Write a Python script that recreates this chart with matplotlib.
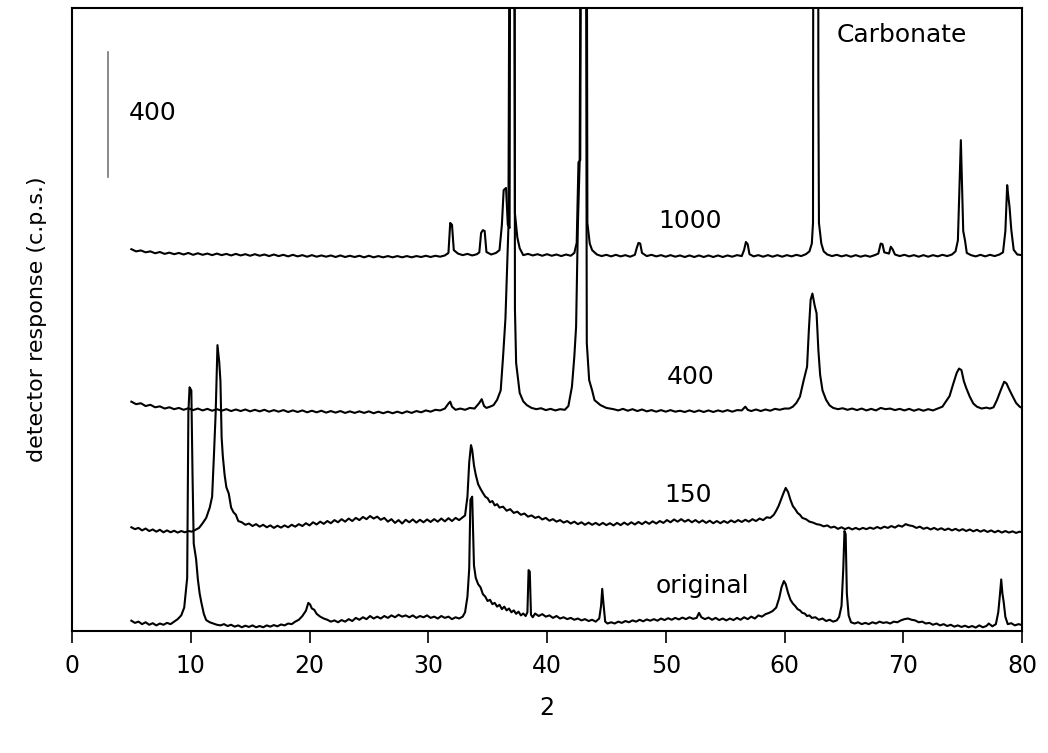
import numpy as np
import matplotlib
matplotlib.use("Agg")
import matplotlib.pyplot as plt

# XRD traces: (2theta, c.p.s. incl. vertical offset)
original = [
    (5.0, 33), (5.3, 26), (5.6, 30), (5.9, 22), (6.2, 28), (6.5, 20), (6.8, 25), (7.1, 18), (7.4, 24),
    (7.7, 20), (8.0, 26), (8.3, 22), (8.6, 30), (8.9, 38), (9.2, 50), (9.45, 75), (9.6, 130), (9.7, 170),
    (9.8, 700), (9.9, 780), (10.05, 770), (10.15, 500), (10.25, 280), (10.45, 230), (10.6, 165),
    (10.75, 120), (10.9, 90), (11.1, 55), (11.3, 35), (11.6, 28), (11.9, 24), (12.2, 20), (12.5, 18),
    (12.8, 22), (13.1, 16), (13.4, 20), (13.7, 14), (14.0, 18), (14.3, 12), (14.6, 17), (14.9, 13),
    (15.2, 18), (15.5, 12), (15.8, 16), (16.1, 12), (16.4, 18), (16.7, 14), (17.0, 19), (17.3, 15),
    (17.6, 21), (17.9, 18), (18.2, 24), (18.5, 22), (18.8, 30), (19.1, 36), (19.4, 48), (19.7, 65),
    (19.9, 90), (20.05, 85), (20.2, 72), (20.4, 68), (20.6, 55), (20.9, 46), (21.2, 40), (21.5, 36),
    (21.8, 30), (22.1, 34), (22.4, 28), (22.7, 35), (23.0, 30), (23.3, 38), (23.6, 32), (23.9, 42),
    (24.2, 36), (24.5, 44), (24.8, 38), (25.1, 48), (25.4, 40), (25.7, 46), (26.0, 40), (26.3, 48),
    (26.6, 42), (26.9, 50), (27.2, 44), (27.5, 52), (27.8, 46), (28.1, 50), (28.4, 44), (28.7, 50),
    (29.0, 42), (29.3, 48), (29.6, 44), (29.9, 50), (30.2, 42), (30.5, 46), (30.8, 40), (31.1, 48),
    (31.4, 42), (31.7, 46), (32.0, 38), (32.3, 44), (32.6, 40), (32.9, 46), (33.1, 60), (33.3, 110),
    (33.45, 200), (33.55, 420), (33.7, 430), (33.85, 210), (34.0, 170), (34.2, 150), (34.4, 140),
    (34.6, 118), (34.8, 110), (35.0, 96), (35.2, 100), (35.4, 86), (35.6, 90), (35.8, 78), (36.0, 84),
    (36.2, 70), (36.4, 78), (36.6, 66), (36.8, 72), (37.0, 60), (37.2, 66), (37.4, 55), (37.6, 62),
    (37.8, 50), (38.0, 56), (38.2, 48), (38.35, 60), (38.45, 195), (38.55, 190), (38.65, 52), (38.8, 44),
    (39.0, 56), (39.3, 48), (39.6, 54), (39.9, 46), (40.2, 50), (40.5, 42), (40.8, 48), (41.1, 40),
    (41.4, 44), (41.7, 38), (42.0, 42), (42.3, 36), (42.6, 40), (42.9, 34), (43.2, 38), (43.5, 32),
    (43.8, 36), (44.1, 30), (44.4, 40), (44.55, 80), (44.65, 135), (44.75, 90), (44.9, 30), (45.1, 24),
    (45.4, 28), (45.7, 24), (46.0, 30), (46.3, 26), (46.6, 32), (46.9, 28), (47.2, 34), (47.5, 30),
    (47.8, 36), (48.1, 31), (48.4, 37), (48.7, 33), (49.0, 38), (49.3, 33), (49.6, 40), (49.9, 35),
    (50.2, 41), (50.5, 36), (50.8, 42), (51.1, 37), (51.4, 43), (51.7, 38), (52.0, 44), (52.3, 39),
    (52.6, 42), (52.8, 58), (53.0, 44), (53.3, 38), (53.6, 43), (53.9, 36), (54.2, 42), (54.5, 35),
    (54.8, 40), (55.1, 34), (55.4, 40), (55.7, 35), (56.0, 42), (56.3, 36), (56.6, 44), (56.9, 38),
    (57.2, 46), (57.5, 40), (57.8, 50), (58.1, 46), (58.4, 54), (58.7, 58), (59.0, 64), (59.3, 75),
    (59.55, 105), (59.75, 140), (59.95, 160), (60.1, 150), (60.3, 122), (60.5, 100), (60.7, 88),
    (60.9, 80), (61.1, 70), (61.3, 66), (61.5, 58), (61.7, 56), (61.9, 48), (62.1, 50), (62.3, 42),
    (62.6, 44), (62.9, 36), (63.2, 40), (63.5, 32), (63.8, 36), (64.1, 30), (64.4, 34), (64.6, 45),
    (64.8, 80), (64.95, 200), (65.05, 320), (65.15, 310), (65.25, 120), (65.4, 50), (65.6, 28),
    (65.9, 24), (66.2, 28), (66.5, 22), (66.8, 26), (67.1, 22), (67.4, 28), (67.7, 24), (68.0, 30),
    (68.3, 26), (68.6, 28), (68.9, 24), (69.2, 30), (69.5, 28), (69.8, 34), (70.1, 38), (70.4, 40),
    (70.7, 36), (71.0, 34), (71.3, 28), (71.6, 30), (71.9, 24), (72.2, 26), (72.5, 20), (72.8, 24),
    (73.1, 18), (73.4, 22), (73.7, 16), (74.0, 20), (74.3, 14), (74.6, 18), (74.9, 13), (75.2, 17),
    (75.5, 12), (75.8, 16), (76.1, 11), (76.4, 18), (76.7, 12), (77.0, 16), (77.2, 24), (77.5, 15),
    (77.8, 22), (78.0, 60), (78.15, 120), (78.25, 165), (78.35, 120), (78.45, 95), (78.6, 45),
    (78.8, 22), (79.1, 25), (79.4, 18), (79.7, 22), (80.0, 19),
]

t150 = [
    (5.0, 332), (5.3, 326), (5.6, 330), (5.9, 322), (6.2, 328), (6.5, 320), (6.8, 325), (7.1, 318),
    (7.4, 324), (7.7, 316), (8.0, 322), (8.3, 316), (8.6, 321), (8.9, 315), (9.2, 320), (9.5, 316),
    (9.8, 320), (10.1, 318), (10.4, 324), (10.7, 330), (11.0, 345), (11.3, 362), (11.6, 395), (11.8, 430),
    (11.95, 560), (12.1, 700), (12.25, 915), (12.4, 860), (12.5, 800), (12.6, 620), (12.7, 560),
    (12.85, 500), (13.0, 460), (13.2, 440), (13.4, 395), (13.6, 380), (13.8, 372), (14.0, 352),
    (14.3, 348), (14.6, 340), (14.9, 344), (15.2, 336), (15.5, 342), (15.8, 334), (16.1, 340), (16.4, 332),
    (16.7, 338), (17.0, 330), (17.3, 337), (17.6, 331), (17.9, 338), (18.2, 332), (18.5, 340), (18.8, 334),
    (19.1, 342), (19.4, 336), (19.7, 345), (20.0, 338), (20.3, 348), (20.6, 341), (20.9, 350), (21.2, 343),
    (21.5, 352), (21.8, 345), (22.1, 355), (22.4, 348), (22.7, 358), (23.0, 350), (23.3, 360), (23.6, 352),
    (23.9, 362), (24.2, 355), (24.5, 365), (24.8, 358), (25.1, 368), (25.4, 360), (25.7, 366), (26.0, 356),
    (26.3, 362), (26.6, 350), (26.9, 358), (27.2, 346), (27.5, 355), (27.8, 344), (28.1, 356), (28.4, 348),
    (28.7, 357), (29.0, 347), (29.3, 356), (29.6, 348), (29.9, 357), (30.2, 349), (30.5, 358), (30.8, 350),
    (31.1, 360), (31.4, 351), (31.7, 361), (32.0, 352), (32.3, 362), (32.6, 355), (32.9, 364), (33.1, 370),
    (33.3, 430), (33.45, 540), (33.6, 595), (33.7, 580), (33.85, 530), (34.0, 500), (34.2, 470),
    (34.4, 455), (34.6, 442), (34.8, 430), (35.0, 425), (35.2, 412), (35.4, 416), (35.6, 402), (35.8, 406),
    (36.0, 395), (36.3, 398), (36.6, 385), (36.9, 390), (37.2, 378), (37.5, 382), (37.8, 372), (38.1, 376),
    (38.4, 366), (38.7, 370), (39.0, 362), (39.3, 366), (39.6, 357), (39.9, 362), (40.2, 353), (40.5, 358),
    (40.8, 350), (41.1, 355), (41.4, 347), (41.7, 352), (42.0, 344), (42.3, 350), (42.6, 342), (42.9, 348),
    (43.2, 340), (43.5, 347), (43.8, 340), (44.1, 346), (44.4, 339), (44.7, 346), (45.0, 339), (45.3, 345),
    (45.6, 338), (45.9, 346), (46.2, 339), (46.5, 347), (46.8, 340), (47.1, 348), (47.4, 341), (47.7, 349),
    (48.0, 342), (48.3, 350), (48.6, 343), (48.9, 351), (49.2, 344), (49.5, 352), (49.8, 346), (50.1, 355),
    (50.4, 348), (50.7, 357), (51.0, 350), (51.3, 358), (51.6, 350), (51.9, 356), (52.2, 348), (52.5, 355),
    (52.8, 347), (53.1, 354), (53.4, 346), (53.7, 353), (54.0, 345), (54.3, 352), (54.6, 345), (54.9, 352),
    (55.2, 346), (55.5, 354), (55.8, 348), (56.1, 355), (56.4, 349), (56.7, 356), (57.0, 350), (57.3, 358),
    (57.6, 352), (57.9, 360), (58.2, 355), (58.5, 364), (58.8, 362), (59.1, 372), (59.3, 385), (59.5, 400),
    (59.7, 420), (59.9, 440), (60.1, 458), (60.3, 445), (60.5, 420), (60.7, 400), (60.9, 390), (61.1, 378),
    (61.3, 372), (61.5, 362), (61.8, 358), (62.1, 350), (62.4, 347), (62.7, 342), (63.0, 340), (63.3, 335),
    (63.6, 338), (63.9, 331), (64.2, 334), (64.5, 327), (64.8, 332), (65.1, 326), (65.4, 331), (65.7, 325),
    (66.0, 330), (66.3, 325), (66.6, 330), (66.9, 326), (67.2, 331), (67.5, 327), (67.8, 333), (68.1, 328),
    (68.4, 334), (68.7, 330), (69.0, 336), (69.3, 331), (69.6, 338), (69.9, 334), (70.2, 342), (70.5, 338),
    (70.8, 336), (71.1, 330), (71.4, 334), (71.7, 327), (72.0, 331), (72.3, 325), (72.6, 330), (72.9, 324),
    (73.2, 329), (73.5, 323), (73.8, 328), (74.1, 322), (74.4, 327), (74.7, 321), (75.0, 326), (75.3, 320),
    (75.6, 325), (75.9, 319), (76.2, 324), (76.5, 318), (76.8, 323), (77.1, 317), (77.4, 322), (77.7, 316),
    (78.0, 321), (78.3, 315), (78.6, 320), (78.9, 315), (79.2, 319), (79.5, 314), (79.8, 318), (80.0, 316),
]

t400 = [
    (5.0, 734), (5.4, 726), (5.8, 729), (6.2, 720), (6.6, 724), (7.0, 716), (7.4, 719), (7.8, 712),
    (8.2, 716), (8.6, 710), (9.0, 714), (9.4, 708), (9.8, 713), (10.2, 707), (10.6, 712), (11.0, 706),
    (11.4, 711), (11.8, 705), (12.2, 710), (12.6, 705), (13.0, 710), (13.4, 704), (13.8, 709), (14.2, 704),
    (14.6, 709), (15.0, 703), (15.4, 708), (15.8, 703), (16.2, 708), (16.6, 702), (17.0, 707), (17.4, 702),
    (17.8, 707), (18.2, 701), (18.6, 706), (19.0, 701), (19.4, 706), (19.8, 700), (20.2, 705), (20.6, 700),
    (21.0, 705), (21.4, 699), (21.8, 704), (22.2, 699), (22.6, 704), (23.0, 698), (23.4, 703), (23.8, 698),
    (24.2, 703), (24.6, 698), (25.0, 703), (25.4, 697), (25.8, 702), (26.2, 697), (26.6, 702), (27.0, 697),
    (27.4, 702), (27.8, 697), (28.2, 703), (28.6, 698), (29.0, 704), (29.4, 700), (29.8, 706), (30.2, 702),
    (30.6, 708), (31.0, 706), (31.4, 712), (31.7, 728), (31.85, 734), (32.0, 718), (32.3, 708), (32.7, 712),
    (33.1, 708), (33.5, 714), (33.9, 712), (34.3, 730), (34.5, 742), (34.7, 720), (34.9, 714), (35.2, 718),
    (35.5, 723), (35.8, 740), (36.1, 770), (36.3, 878), (36.5, 1000), (36.65, 1180), (36.75, 1290),
    (36.9, 3000), (37.25, 3000), (37.3, 1030), (37.4, 858), (37.7, 762), (38.0, 735), (38.3, 723),
    (38.7, 714), (39.1, 710), (39.5, 713), (39.9, 707), (40.3, 711), (40.7, 706), (41.1, 710), (41.5, 708),
    (41.8, 720), (42.1, 782), (42.3, 878), (42.45, 974), (42.6, 1300), (42.75, 1500), (42.9, 3000),
    (43.25, 3000), (43.35, 922), (43.55, 803), (43.8, 770), (44.0, 739), (44.5, 723), (45.0, 714),
    (45.6, 710), (46.0, 706), (46.4, 711), (46.8, 705), (47.2, 710), (47.6, 704), (48.0, 709), (48.4, 703),
    (48.8, 707), (49.2, 702), (49.6, 707), (50.0, 702), (50.4, 707), (50.8, 702), (51.2, 705), (51.6, 701),
    (52.0, 706), (52.4, 701), (52.8, 706), (53.2, 701), (53.6, 706), (54.0, 701), (54.4, 706), (54.8, 702),
    (55.2, 707), (55.6, 702), (56.0, 707), (56.4, 706), (56.7, 718), (56.9, 708), (57.2, 704), (57.6, 709),
    (58.0, 704), (58.4, 709), (58.8, 705), (59.2, 711), (59.6, 708), (60.0, 712), (60.4, 712), (60.7, 718),
    (61.0, 730), (61.3, 750), (61.6, 800), (61.9, 846), (62.05, 963), (62.2, 1060), (62.35, 1080),
    (62.55, 1040), (62.7, 1017), (62.85, 900), (63.0, 820), (63.2, 770), (63.5, 740), (63.8, 722),
    (64.1, 714), (64.5, 710), (64.9, 713), (65.3, 708), (65.7, 712), (66.1, 707), (66.5, 712), (66.9, 706),
    (67.3, 711), (67.7, 706), (68.1, 714), (68.5, 710), (68.9, 712), (69.3, 707), (69.7, 711), (70.1, 706),
    (70.5, 711), (70.9, 705), (71.3, 710), (71.7, 705), (72.1, 710), (72.5, 706), (72.9, 712), (73.3, 718),
    (73.6, 735), (73.9, 752), (74.2, 790), (74.5, 826), (74.7, 840), (74.9, 835), (75.1, 800), (75.3, 778),
    (75.6, 750), (75.9, 728), (76.2, 718), (76.6, 712), (77.0, 715), (77.3, 712), (77.6, 716), (77.9, 740),
    (78.2, 770), (78.5, 798), (78.7, 792), (78.9, 775), (79.2, 752), (79.5, 730), (79.8, 718), (80.0, 714),
]

t1000 = [
    (5.0, 1222), (5.4, 1215), (5.8, 1218), (6.2, 1212), (6.6, 1215), (7.0, 1209), (7.4, 1213), (7.8, 1207),
    (8.2, 1211), (8.6, 1206), (9.0, 1210), (9.4, 1205), (9.8, 1210), (10.2, 1204), (10.6, 1209),
    (11.0, 1204), (11.4, 1208), (11.8, 1203), (12.2, 1208), (12.6, 1203), (13.0, 1207), (13.4, 1202),
    (13.8, 1207), (14.2, 1202), (14.6, 1206), (15.0, 1201), (15.4, 1206), (15.8, 1201), (16.2, 1205),
    (16.6, 1200), (17.0, 1205), (17.4, 1200), (17.8, 1204), (18.2, 1199), (18.6, 1204), (19.0, 1199),
    (19.4, 1203), (19.8, 1198), (20.2, 1203), (20.6, 1198), (21.0, 1202), (21.4, 1198), (21.8, 1202),
    (22.2, 1197), (22.6, 1202), (23.0, 1197), (23.4, 1201), (23.8, 1197), (24.2, 1201), (24.6, 1196),
    (25.0, 1201), (25.4, 1196), (25.8, 1200), (26.2, 1196), (26.6, 1200), (27.0, 1196), (27.4, 1200),
    (27.8, 1196), (28.2, 1200), (28.6, 1196), (29.0, 1200), (29.4, 1197), (29.8, 1201), (30.2, 1197),
    (30.6, 1201), (31.0, 1198), (31.4, 1202), (31.7, 1210), (31.85, 1306), (32.0, 1300), (32.15, 1219),
    (32.5, 1208), (32.9, 1203), (33.3, 1207), (33.7, 1202), (34.1, 1206), (34.3, 1212), (34.45, 1274),
    (34.6, 1283), (34.75, 1280), (34.9, 1213), (35.3, 1205), (35.7, 1210), (36.0, 1219), (36.2, 1300),
    (36.35, 1411), (36.55, 1418), (36.7, 1300), (36.85, 1290), (36.95, 3500), (37.2, 3500), (37.3, 1337),
    (37.5, 1260), (37.7, 1225), (38.0, 1203), (38.4, 1207), (38.8, 1202), (39.2, 1206), (39.6, 1201),
    (40.0, 1206), (40.4, 1201), (40.8, 1205), (41.2, 1200), (41.6, 1205), (42.0, 1201), (42.3, 1210),
    (42.5, 1242), (42.65, 1500), (42.8, 1507), (42.95, 3500), (43.3, 3500), (43.4, 1306), (43.6, 1240),
    (43.8, 1219), (44.2, 1205), (44.6, 1200), (45.0, 1204), (45.4, 1199), (45.8, 1204), (46.2, 1199),
    (46.6, 1203), (47.0, 1198), (47.4, 1204), (47.55, 1225), (47.7, 1242), (47.85, 1240), (48.0, 1210),
    (48.4, 1200), (48.8, 1204), (49.2, 1199), (49.6, 1203), (50.0, 1198), (50.4, 1203), (50.8, 1198),
    (51.2, 1202), (51.6, 1197), (52.0, 1202), (52.4, 1197), (52.8, 1202), (53.2, 1197), (53.6, 1202),
    (54.0, 1197), (54.4, 1202), (54.8, 1197), (55.2, 1202), (55.6, 1198), (56.0, 1203), (56.4, 1200),
    (56.6, 1220), (56.75, 1245), (56.9, 1238), (57.05, 1206), (57.4, 1199), (57.8, 1203), (58.2, 1198),
    (58.6, 1203), (59.0, 1198), (59.4, 1203), (59.8, 1198), (60.2, 1203), (60.6, 1199), (61.0, 1204),
    (61.4, 1200), (61.8, 1206), (62.1, 1215), (62.3, 1240), (62.4, 1306), (62.45, 3500), (62.82, 3500),
    (62.85, 1763), (62.9, 1306), (63.1, 1240), (63.3, 1215), (63.6, 1205), (64.0, 1200), (64.4, 1204),
    (64.8, 1199), (65.2, 1203), (65.6, 1198), (66.0, 1203), (66.4, 1198), (66.8, 1202), (67.2, 1198),
    (67.6, 1203), (67.9, 1208), (68.1, 1240), (68.25, 1238), (68.4, 1212), (68.8, 1208), (68.95, 1230),
    (69.1, 1222), (69.3, 1205), (69.7, 1200), (70.1, 1204), (70.5, 1199), (70.9, 1203), (71.3, 1198),
    (71.7, 1203), (72.1, 1198), (72.5, 1203), (72.9, 1199), (73.3, 1204), (73.7, 1200), (74.1, 1205),
    (74.4, 1215), (74.6, 1250), (74.75, 1450), (74.85, 1571), (74.95, 1421), (75.05, 1280), (75.2, 1250),
    (75.35, 1210), (75.7, 1203), (76.1, 1199), (76.5, 1204), (76.9, 1199), (77.3, 1204), (77.7, 1200),
    (78.1, 1205), (78.4, 1212), (78.6, 1280), (78.75, 1427), (78.85, 1390), (78.95, 1357), (79.1, 1283),
    (79.3, 1220), (79.6, 1205), (80.0, 1203),
]

traces = [original, t150, t400, t1000]
labels = ["original", "150", "400", "1000"]
label_x = [53.05, 51.9, 52.1, 52.0]
label_y = [122, 413, 790, 1290]

scale_x = 3.06
scale_lo, scale_hi = 1453, 1853

fig = plt.figure(figsize=(10.48, 7.53), dpi=100)
ax = fig.add_axes([0.0687, 0.162, 0.9065, 0.8274])

for tr in traces:
    x = np.array([p[0] for p in tr])
    y = np.array([p[1] for p in tr])
    ax.plot(x, y, color="black", lw=1.5)

for lab, lx, ly in zip(labels, label_x, label_y):
    ax.text(lx, ly, lab, fontsize=18, ha="center", va="baseline")

ax.text(69.9, 1885, "Carbonate", fontsize=18, ha="center", va="baseline")

# 400 c.p.s. scale bar
ax.plot([scale_x, scale_x], [scale_lo, scale_hi], color="#777777", lw=1.2)
ax.text(6.83, 1635, "400", fontsize=18, ha="center", va="baseline")

ax.set_xlim(0, 80)
ax.set_ylim(0, 1994)
ax.set_xticks(np.arange(0, 81, 10))
ax.set_yticks([])
ax.tick_params(axis="x", direction="out", length=8.6, width=1.2, pad=8, labelsize=17)
for s in ax.spines.values():
    s.set_linewidth(1.5)

ax.set_xlabel("2", fontsize=17, labelpad=13)
ax.set_ylabel("detector response (c.p.s.)", fontsize=16, labelpad=18)

fig.savefig("out.png", dpi=100)
